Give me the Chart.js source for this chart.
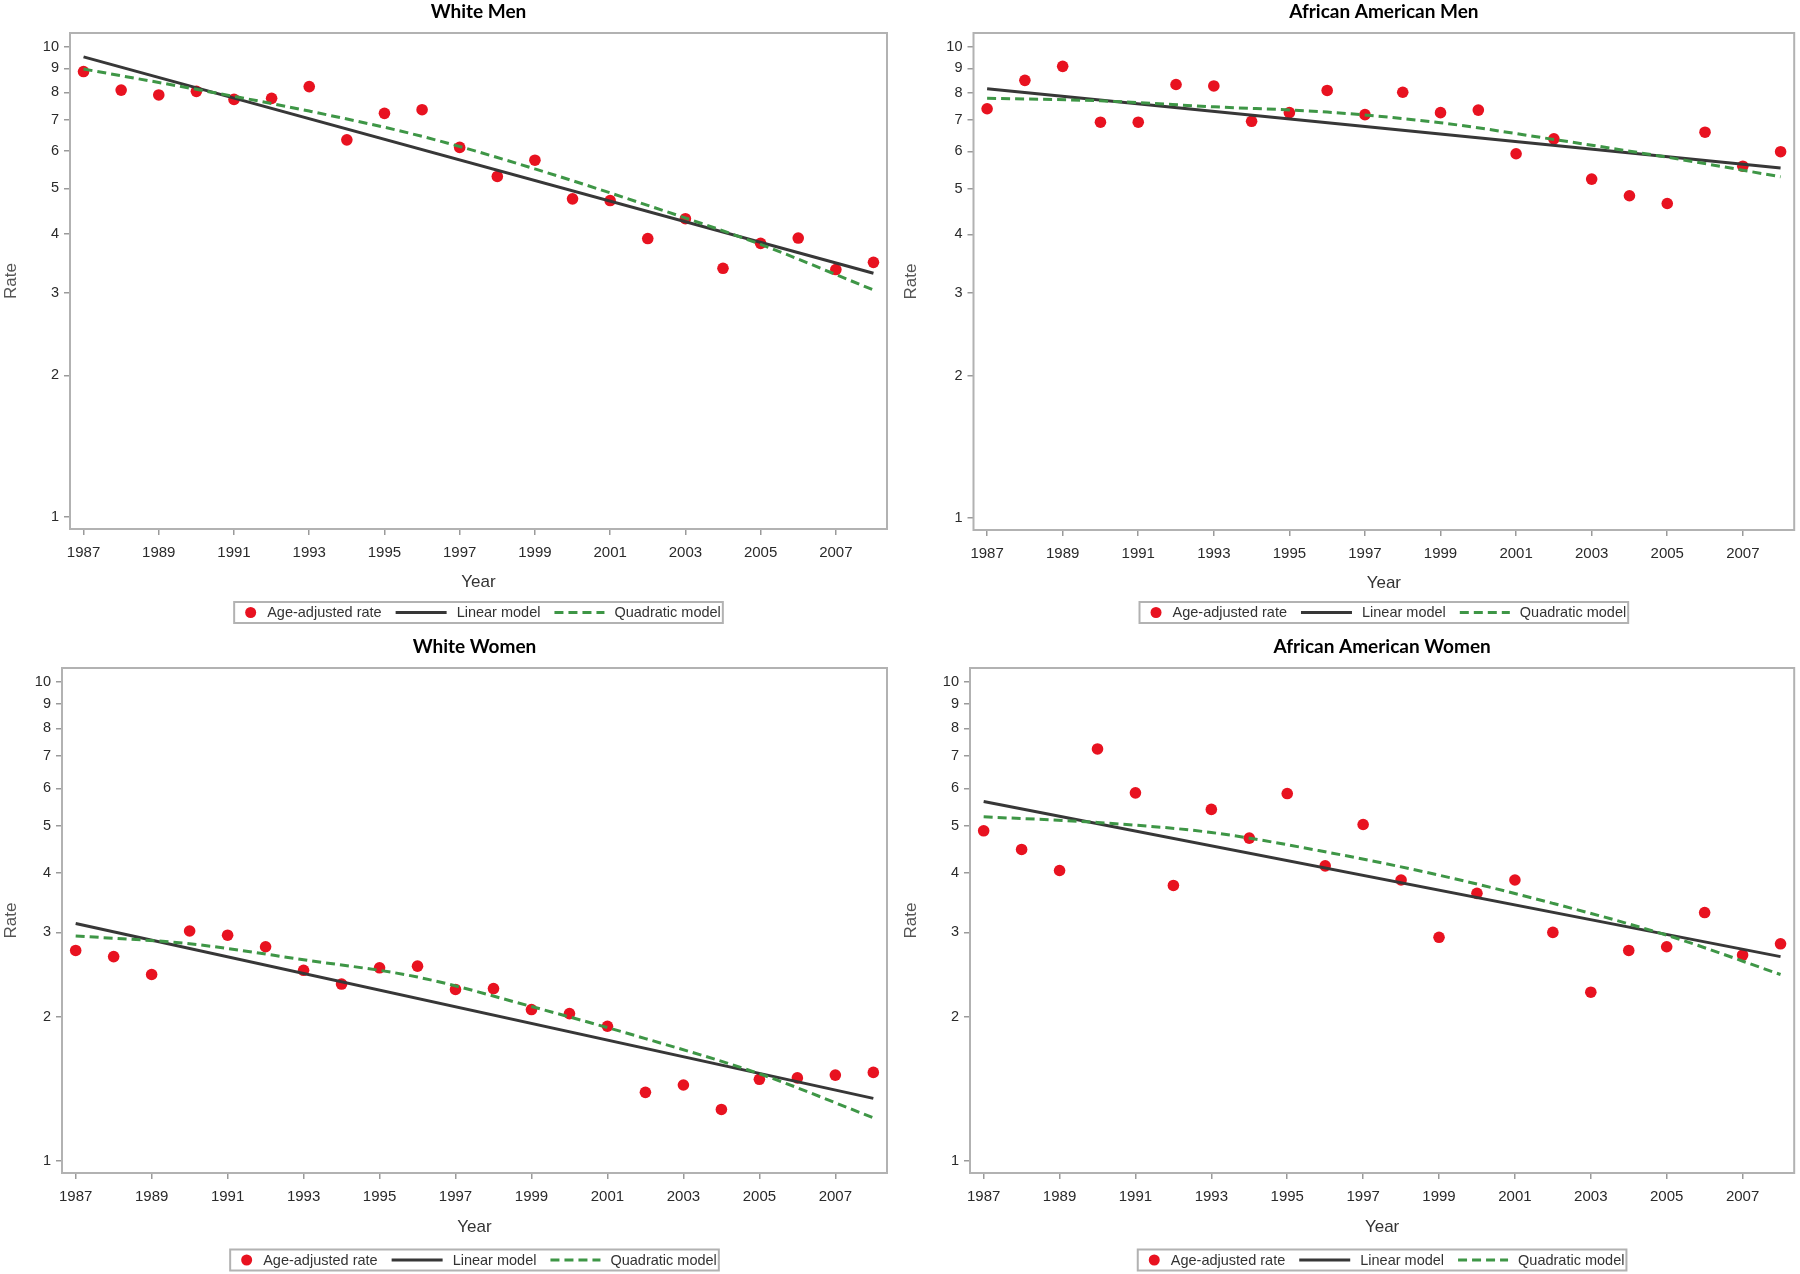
<!DOCTYPE html>
<html>
<head>
<meta charset="utf-8">
<script src="https://cdn.jsdelivr.net/npm/chart.js@4.4.0/dist/chart.umd.min.js"></script>
<style>
html,body{margin:0;padding:0;background:#fff;}
#wrap{position:relative;width:1800px;height:1274px;overflow:hidden;background:#fff;}
.cell{position:absolute;}
</style>
</head>
<body>
<div id="wrap">
  <div class="cell" style="left:0;top:0;width:900px;height:630px"><canvas id="c0"></canvas></div>
  <div class="cell" style="left:900px;top:0;width:900px;height:630px"><canvas id="c1"></canvas></div>
  <div class="cell" style="left:0;top:630px;width:900px;height:644px"><canvas id="c2"></canvas></div>
  <div class="cell" style="left:900px;top:630px;width:900px;height:644px"><canvas id="c3"></canvas></div>
</div>
<script>
// ---------------- data ----------------
const years = [1987,1988,1989,1990,1991,1992,1993,1994,1995,1996,1997,1998,1999,2000,2001,2002,2003,2004,2005,2006,2007,2008];
const xTickYears = [1987,1989,1991,1993,1995,1997,1999,2001,2003,2005,2007];
const yTickValues = [1,2,3,4,5,6,7,8,9,10];
const panelTitles = ['White Men','African American Men','White Women','African American Women'];
const seriesNames = ['Age-adjusted rate','Linear model','Quadratic model'];
const xAxisTitle = 'Year';
const yAxisTitle = 'Rate';

const whiteMenRate = [8.86,8.09,7.90,8.04,7.73,7.77,8.23,6.34,7.22,7.35,6.11,5.30,5.74,4.75,4.71,3.91,4.31,3.38,3.82,3.92,3.36,3.48];
const aaMenRate = [7.39,8.49,9.09,6.92,6.92,8.32,8.26,6.95,7.25,8.08,7.18,8.01,7.25,7.34,5.93,6.38,5.24,4.83,4.65,6.59,5.58,5.99];
const whiteWomenRate = [2.75,2.67,2.45,3.02,2.96,2.80,2.50,2.34,2.53,2.55,2.28,2.29,2.07,2.03,1.91,1.39,1.44,1.28,1.48,1.49,1.51,1.53];
const aaWomenRate = [4.89,4.47,4.04,7.25,5.87,3.76,5.42,4.72,5.85,4.13,5.04,3.86,2.93,3.62,3.86,3.00,2.25,2.75,2.80,3.30,2.69,2.84];

const linearYears = [1987,2008];
const whiteMenLinear = [9.52,3.30];
const aaMenLinear = [8.15,5.53];
const whiteWomenLinear = [3.13,1.35];
const aaWomenLinear = [5.63,2.67];

const quadYears = [1987,1990,1993,1996,1999,2002,2005,2008];
const whiteMenQuad = [8.97,8.12,7.30,6.45,5.50,4.60,3.80,3.04];
const aaMenQuad = [7.78,7.68,7.46,7.27,6.90,6.36,5.83,5.30];
const whiteWomenQuad = [2.95,2.84,2.63,2.42,2.10,1.80,1.52,1.23];
const aaWomenQuad = [5.23,5.09,4.85,4.42,3.95,3.45,2.96,2.45];

// ---------------- styles ----------------
const RED = 'rgb(232,18,32)';
const DARK = 'rgb(55,55,55)';
const GREEN = 'rgb(62,150,70)';
const FRAME = '#b2b2b2';
const DASH = [9,5];

const pts = (xs, ys) => xs.map((x, i) => ({x: x, y: ys[i]}));

const panels = [
  {id:'c0', title:panelTitles[0], rate:whiteMenRate, lin:whiteMenLinear, quad:whiteMenQuad,
   padTop:0, padRight:13, yW:70, xH:68.5, legReserve:32.5, legCY:612.5},
  {id:'c1', title:panelTitles[1], rate:aaMenRate, lin:aaMenLinear, quad:aaMenQuad,
   padTop:0, padRight:5, yW:73.5, xH:68.5, legReserve:31.5, legCY:612.5},
  {id:'c2', title:panelTitles[2], rate:whiteWomenRate, lin:whiteWomenLinear, quad:whiteWomenQuad,
   padTop:5, padRight:13, yW:62, xH:69.5, legReserve:31.5, legCY:630},
  {id:'c3', title:panelTitles[3], rate:aaWomenRate, lin:aaWomenLinear, quad:aaWomenQuad,
   padTop:5, padRight:3, yW:70, xH:69.5, legReserve:31.5, legCY:630}
];

// frame around plot area
const framePlugin = {
  id: 'frame',
  beforeDatasetsDraw(chart) {
    const a = chart.chartArea, ctx = chart.ctx;
    ctx.save();
    ctx.strokeStyle = FRAME;
    ctx.lineWidth = 2;
    ctx.strokeRect(a.left, a.top, a.right - a.left, a.bottom - a.top);
    ctx.restore();
  }
};

// boxed legend under x-axis title
const boxLegendPlugin = {
  id: 'boxLegend',
  afterDraw(chart, args, opts) {
    const ctx = chart.ctx, a = chart.chartArea;
    const ds = chart.data.datasets;
    ctx.save();
    ctx.font = '14.5px "Liberation Sans", Arial, sans-serif';
    const padL = 5, padR = 8, symW = [11, 51, 50], gapTxt = [11, 10, 10], gapItem = 14;
    const tw = ds.map(d => ctx.measureText(d.label).width);
    let total = padL + padR;
    for (let i = 0; i < ds.length; i++) {
      total += symW[i] + gapTxt[i] + tw[i] + (i < ds.length - 1 ? gapItem : 0);
    }
    const cx = (a.left + a.right) / 2;
    const cy = opts.cy;
    const x0 = cx - total / 2;
    ctx.strokeStyle = FRAME;
    ctx.lineWidth = 2;
    ctx.strokeRect(x0, cy - 10.5, total, 21);
    let x = x0 + padL + 6;
    for (let i = 0; i < ds.length; i++) {
      const d = ds[i];
      if (i === 0) {
        ctx.fillStyle = d.backgroundColor;
        ctx.beginPath();
        ctx.arc(x + symW[0] / 2, cy, 5.5, 0, Math.PI * 2);
        ctx.fill();
      } else {
        ctx.strokeStyle = d.borderColor;
        ctx.lineWidth = 3;
        ctx.setLineDash(d.borderDash || []);
        ctx.beginPath();
        ctx.moveTo(x, cy);
        ctx.lineTo(x + symW[i], cy);
        ctx.stroke();
        ctx.setLineDash([]);
      }
      x += symW[i] + gapTxt[i];
      ctx.fillStyle = '#333';
      ctx.textBaseline = 'middle';
      ctx.textAlign = 'left';
      ctx.fillText(d.label, x, cy + 0.5);
      x += tw[i] + gapItem;
    }
    ctx.restore();
  }
};

panels.forEach(p => {
  new Chart(document.getElementById(p.id), {
    type: 'scatter',
    data: {
      datasets: [
        {label: seriesNames[0], data: pts(years, p.rate), backgroundColor: RED, borderColor: RED,
         pointRadius: 5.8, pointBorderWidth: 0, showLine: false, order: 3},
        {label: seriesNames[1], data: pts(linearYears, p.lin), borderColor: DARK, backgroundColor: DARK,
         borderWidth: 3, pointRadius: 0, showLine: true, order: 2},
        {label: seriesNames[2], data: pts(quadYears, p.quad), borderColor: GREEN, backgroundColor: GREEN,
         borderWidth: 3, borderDash: DASH, pointRadius: 0, showLine: true, cubicInterpolationMode: 'monotone', order: 1}
      ]
    },
    options: {
      responsive: true,
      maintainAspectRatio: false,
      animation: false,
      events: [],
      layout: {padding: {top: p.padTop, right: p.padRight, left: 0, bottom: p.legReserve}},
      plugins: {
        legend: {display: false},
        tooltip: {enabled: false},
        title: {
          display: true, text: p.title, fullSize: false, color: '#000',
          font: {family: 'Lato, "Liberation Sans", sans-serif', size: 19, weight: 'bold'},
          padding: {top: 0, bottom: 10.2}
        },
        boxLegend: {cy: p.legCY}
      },
      scales: {
        x: {
          type: 'linear', min: 1986.64, max: 2008.36, bounds: 'data',
          afterBuildTicks: (ax) => { ax.ticks = xTickYears.map(v => ({value: v})); },
          afterFit: (s) => { s.height = p.xH; },
          border: {display: false},
          grid: {drawOnChartArea: false, drawTicks: true, tickLength: 6, color: '#9a9a9a', lineWidth: 1.5},
          ticks: {autoSkip: false, maxRotation: 0, padding: 9, color: '#2a2a2a',
                  font: {family: '"Liberation Sans", Arial, sans-serif', size: 15},
                  callback: (v) => String(v)},
          title: {display: true, text: xAxisTitle, color: '#333',
                  font: {family: '"Liberation Sans", Arial, sans-serif', size: 17},
                  padding: {top: 0, bottom: 4.5}}
        },
        y: {
          type: 'logarithmic', min: 0.943, max: 10.7, bounds: 'data',
          afterBuildTicks: (ax) => { ax.ticks = yTickValues.map(v => ({value: v})); },
          afterFit: (s) => { s.width = p.yW; },
          border: {display: false},
          grid: {drawOnChartArea: false, drawTicks: true, tickLength: 6, color: '#9a9a9a', lineWidth: 1.5},
          ticks: {autoSkip: false, padding: 5, color: '#2a2a2a',
                  font: {family: '"Liberation Sans", Arial, sans-serif', size: 14.5},
                  callback: (v) => String(v)},
          title: {display: true, text: yAxisTitle, color: '#555',
                  font: {family: '"Liberation Sans", Arial, sans-serif', size: 17},
                  padding: {top: 1, bottom: 0}}
        }
      }
    },
    plugins: [framePlugin, boxLegendPlugin]
  });
});
</script>
</body>
</html>
